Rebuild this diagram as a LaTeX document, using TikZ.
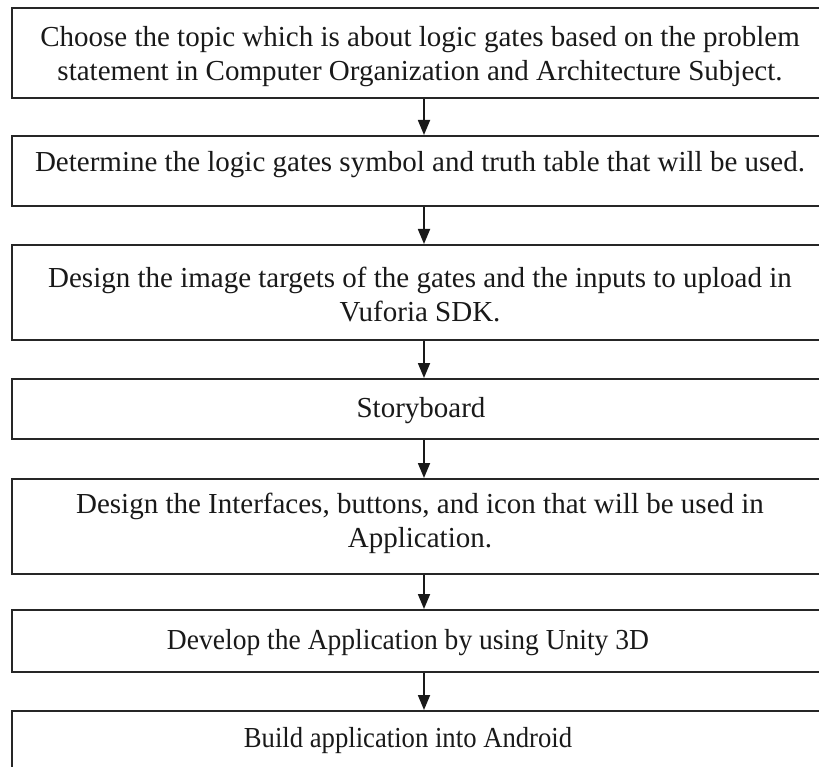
\documentclass[tikz,border=0pt]{standalone}
\usepackage{fontspec}
\setmainfont{Liberation Serif}
\usetikzlibrary{arrows.meta}
\tikzset{
  box/.style={draw=black!85, line width=2pt, rectangle, minimum width=816pt, inner sep=0pt},
  txt/.style={align=center, inner sep=0pt, font=\fontsize{29}{34}\selectfont, text=black!90},
  arr/.style={line width=1.8pt, draw=black!90, -{Triangle[length=15pt,width=12pt]}}
}
\begin{document}
\begin{tikzpicture}[x=1pt,y=-1pt]
\useasboundingbox (0,0) rectangle (819,767);
\clip (0,0) rectangle (819,767);
\fill[white] (0,0) rectangle (819,767);
\node[box, minimum height=90pt] (b1) at (420,53) {};
\node[box, minimum height=70pt] (b2) at (420,171) {};
\node[box, minimum height=95pt] (b3) at (420,292.5) {};
\node[box, minimum height=60pt] (b4) at (420,409) {};
\node[box, minimum height=95pt] (b5) at (420,526.5) {};
\node[box, minimum height=62pt] (b6) at (420,641) {};
\node[box, minimum height=60pt] (b7) at (420,741) {};
\node[txt] (t1) at (420,57) {Choose the topic which is about logic gates based on the problem\\statement in Computer Organization and Architecture Subject.};
\node[txt] (t2) at (420,165) {Determine the logic gates symbol and truth table that will be used.};
\node[txt] (t3) at (420,295) {Design the image targets of the gates and the inputs to upload in\\Vuforia SDK.};
\node[txt] (t4) at (421,411) {Storyboard};
\node[txt] (t5) at (420,523) {Design the Interfaces, buttons, and icon that will be used in\\Application.};
\node[txt, xscale=0.95] (t6) at (408,643) {Develop the Application by using Unity 3D};
\node[txt, xscale=0.92] (t7) at (408,741) {Build application into Android};
\foreach \a/\b in {b1/b2,b2/b3,b3/b4,b4/b5,b5/b6,b6/b7}
  \draw[arr] ([xshift=4pt]\a.south) -- ([xshift=4pt]\b.north);
\end{tikzpicture}
\end{document}
